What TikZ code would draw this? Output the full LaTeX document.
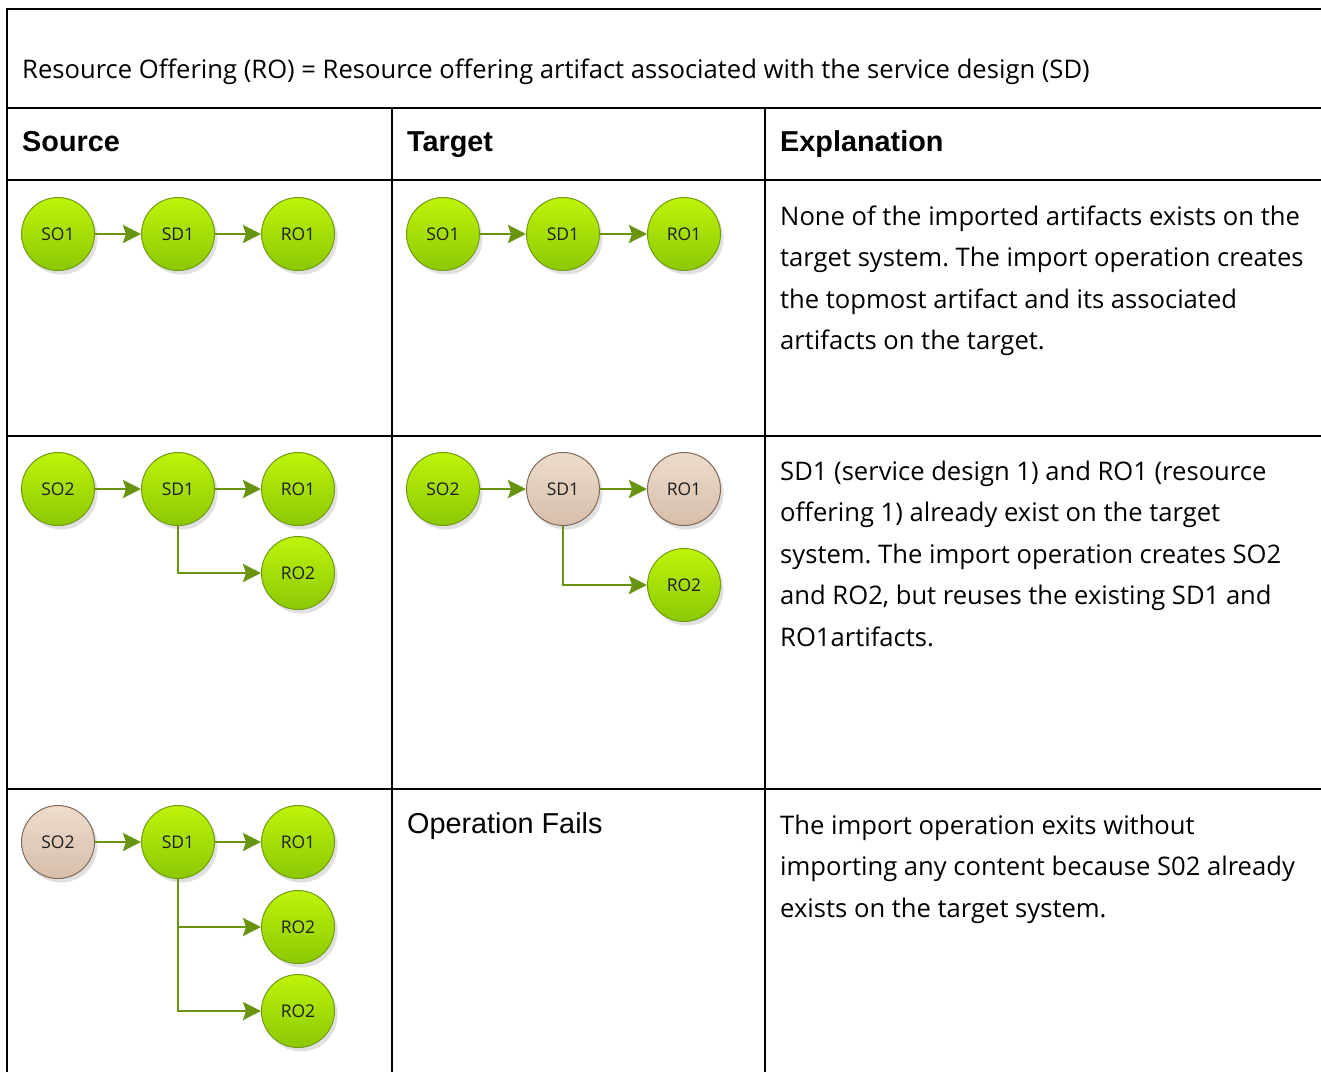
\documentclass[tikz,border=0pt]{standalone}
\usepackage{fontspec}
\setmainfont{Open Sans}
\newfontfamily\arialfont{Liberation Sans}
\usetikzlibrary{arrows.meta,shadows}
\definecolor{gtop}{RGB}{190,244,10}
\definecolor{gbot}{RGB}{140,200,6}
\definecolor{gborder}{RGB}{112,156,18}
\definecolor{btop}{RGB}{238,220,204}
\definecolor{bbot}{RGB}{214,190,170}
\definecolor{bborder}{RGB}{128,104,88}
\definecolor{linkgreen}{RGB}{104,148,16}
\tikzset{
  art/.style={circle, minimum size=73pt, inner sep=0pt, line width=1pt,
    font=\fontsize{17.5}{20}\selectfont, text=black!88,
    drop shadow={shadow xshift=3pt, shadow yshift=-4pt, opacity=0.22, fill=black!55}},
  newart/.style={art, top color=gtop, bottom color=gbot, draw=gborder},
  oldart/.style={art, top color=btop, bottom color=bbot, draw=bborder},
  link/.style={draw=linkgreen, line width=2.8pt, -{Stealth[length=18pt,width=18pt,inset=3pt]}},
  gridline/.style={line width=2pt, black},
  expl/.style={anchor=north west, inner sep=0pt, align=left, font=\fontsize{25.6}{41.5}\selectfont},
  head/.style={anchor=base west, inner sep=0pt, font=\arialfont\bfseries\fontsize{28.8}{32}\selectfont},
}
\frenchspacing
\begin{document}
\begin{tikzpicture}[x=1pt,y=-1pt]
\useasboundingbox (0,0) rectangle (1321,1072);
% table grid
\draw[gridline] (7,1072) -- (7,9) -- (1321,9);
\draw[gridline] (7,108) -- (1321,108);
\draw[gridline] (7,180) -- (1321,180);
\draw[gridline] (7,436) -- (1321,436);
\draw[gridline] (7,789) -- (1321,789);
\draw[gridline] (392,108) -- (392,1072);
\draw[gridline] (765,108) -- (765,1072);
% title
\node[anchor=base west, inner sep=0pt, font=\fontsize{25.6}{30}\selectfont] (title) at (22,78)
  {Resource Offering (RO) = Resource offering artifact associated with the service design (SD)};
% headers
\node[head] (hsrc) at (22,151) {Source};
\node[head] (htgt) at (407,151) {Target};
\node[head] (hexp) at (780,151) {Explanation};
% row 1 source
\node[newart] (a1) at (58,234) {SO1};
\node[newart] (a2) at (178,234) {SD1};
\node[newart] (a3) at (298,234) {RO1};
\draw[link] (a1) -- (a2);
\draw[link] (a2) -- (a3);
% row 1 target
\node[newart] (b1) at (443,234) {SO1};
\node[newart] (b2) at (563,234) {SD1};
\node[newart] (b3) at (684,234) {RO1};
\draw[link] (b1) -- (b2);
\draw[link] (b2) -- (b3);
\node[expl] (e1) at (780,196) {\strut None of the imported artifacts exists on the\\target system. The import operation creates\\the topmost artifact and its associated\\artifacts on the target.};
% row 2 source
\node[newart] (c1) at (58,489) {SO2};
\node[newart] (c2) at (178,489) {SD1};
\node[newart] (c3) at (298,489) {RO1};
\node[newart] (c4) at (298,573) {RO2};
\draw[link] (c1) -- (c2);
\draw[link] (c2) -- (c3);
\draw[link] (c2.south) |- (c4.west);
% row 2 target
\node[newart] (d1) at (443,489) {SO2};
\node[oldart] (d2) at (563,489) {SD1};
\node[oldart] (d3) at (684,489) {RO1};
\node[newart] (d4) at (684,585) {RO2};
\draw[link] (d1) -- (d2);
\draw[link] (d2) -- (d3);
\draw[link] (d2.south) |- (d4.west);
\node[expl] (e2) at (780,451) {\strut SD1 (service design 1) and RO1 (resource\\offering 1) already exist on the target\\system. The import operation creates SO2\\and RO2, but reuses the existing SD1 and\\RO1artifacts.};
% row 3 source
\node[oldart] (f1) at (58,842) {SO2};
\node[newart] (f2) at (178,842) {SD1};
\node[newart] (f3) at (298,842) {RO1};
\node[newart] (f4) at (298,927) {RO2};
\node[newart] (f5) at (298,1011) {RO2};
\draw[link] (f1) -- (f2);
\draw[link] (f2) -- (f3);
\draw[link] (f2.south) |- (f4.west);
\draw[link] (f2.south) |- (f5.west);
% row 3 target
\node[anchor=base west, inner sep=0pt, font=\arialfont\fontsize{28.8}{32}\selectfont] (fail) at (407,833) {Operation Fails};
\node[expl] (e3) at (780,805) {\strut The import operation exits without\\importing any content because S02 already\\exists on the target system.};
\end{tikzpicture}
\end{document}
